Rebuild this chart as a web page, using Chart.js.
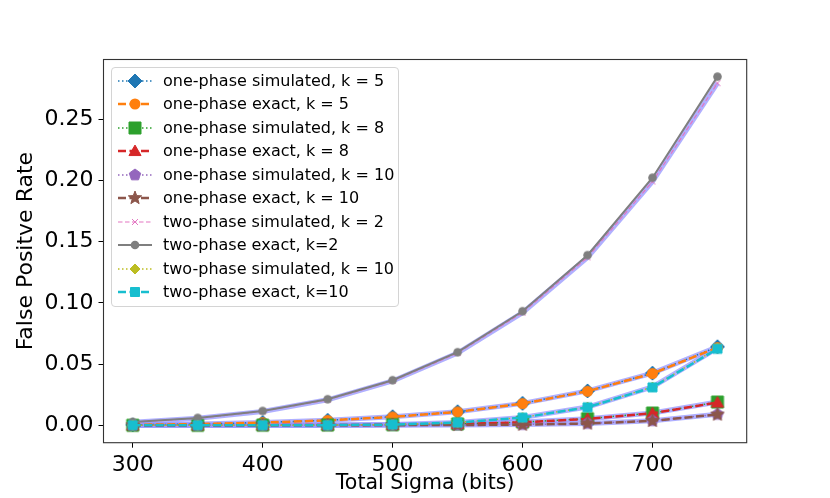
<!DOCTYPE html>
<html>
<head>
<meta charset="utf-8">
<script src="https://cdn.jsdelivr.net/npm/chart.js@4.4.0/dist/chart.umd.min.js"></script>
<style>
  body { margin: 0; background: #fff; }
  #wrap { position: relative; width: 830px; height: 498px; }
  #legend { position: absolute; left: 111px; top: 67px; width: 288px; height: 240px; box-sizing: border-box;
            border: 1px solid #d4d4d4; border-radius: 4px; background: rgba(255,255,255,0.8);
            font-family: "DejaVu Sans", sans-serif; font-size: 16px; color: #000; }
  .row { position: absolute; left: 0; width: 100%; height: 24px; }
  .row svg { position: absolute; left: 5px; top: 0; }
  .row span { position: absolute; left: 51px; top: 0; line-height: 24px; white-space: nowrap; }
</style>
</head>
<body>
<div id="wrap">
  <canvas id="fprChart"></canvas>
  <div id="legend"></div>
</div>
<script>
// x values and x tick labels
const sigmaBits = [300, 350, 400, 450, 500, 550, 600, 650, 700, 750];
const xTickValues = [300, 400, 500, 600, 700];
const yTickValues = [0, 0.05, 0.10, 0.15, 0.20, 0.25];

// series
const onePhaseSimK5   = [0.0004, 0.0010, 0.0023, 0.0041, 0.0070, 0.0111, 0.0179, 0.0281, 0.0426, 0.0642];
const onePhaseExactK5 = [0.0004, 0.0010, 0.0022, 0.0040, 0.0068, 0.0109, 0.0177, 0.0278, 0.0423, 0.0635];
const onePhaseSimK8   = [0.0000, 0.0000, 0.0001, 0.0002, 0.0005, 0.0011, 0.0026, 0.0054, 0.0100, 0.0190];
const onePhaseExactK8 = [0.0000, 0.0000, 0.0001, 0.0002, 0.0004, 0.0010, 0.0024, 0.0052, 0.0098, 0.0186];
const onePhaseSimK10  = [0.0000, 0.0000, 0.0000, 0.0000, 0.0001, 0.0002, 0.0006, 0.0015, 0.0037, 0.0090];
const onePhaseExactK10 = [0.0000, 0.0000, 0.0000, 0.0000, 0.0001, 0.0002, 0.0005, 0.0014, 0.0036, 0.0088];
const twoPhaseSimK2   = [0.0025, 0.0057, 0.0113, 0.0208, 0.0362, 0.0590, 0.0920, 0.1372, 0.1992, 0.2795];
const twoPhaseExactK2 = [0.0027, 0.0060, 0.0117, 0.0213, 0.0368, 0.0597, 0.0932, 0.1390, 0.2023, 0.2849];
const twoPhaseSimK10  = [0.0000, 0.0000, 0.0000, 0.0001, 0.0006, 0.0023, 0.0064, 0.0149, 0.0313, 0.0630];
const twoPhaseExactK10 = [0.0000, 0.0000, 0.0000, 0.0001, 0.0006, 0.0022, 0.0063, 0.0147, 0.0310, 0.0625];

const seriesLabels = [
  "one-phase simulated, k = 5", "one-phase exact, k = 5",
  "one-phase simulated, k = 8", "one-phase exact, k = 8",
  "one-phase simulated, k = 10", "one-phase exact, k = 10",
  "two-phase simulated, k = 2", "two-phase exact, k=2",
  "two-phase simulated, k = 10", "two-phase exact, k=10"
];
const seriesValues = [onePhaseSimK5, onePhaseExactK5, onePhaseSimK8, onePhaseExactK8,
  onePhaseSimK10, onePhaseExactK10, twoPhaseSimK2, twoPhaseExactK2, twoPhaseSimK10, twoPhaseExactK10];

const FONT = "'DejaVu Sans', sans-serif";
const DOT = [1.5, 2.5];
const DASH = [8, 3.5];

// look of each series (colour, line, marker)
const looks = [
  { color: "#1f77b4", width: 1.5, dash: DOT,  shape: "diamond",  r: 7 },
  { color: "#ff7f0e", width: 2.5, dash: DASH, shape: "circle",   r: 5.5 },
  { color: "#2ca02c", width: 1.5, dash: DOT,  shape: "square",   r: 6 },
  { color: "#d62728", width: 2.5, dash: DASH, shape: "triangle", r: 7 },
  { color: "#9467bd", width: 1.5, dash: DOT,  shape: "pentagon", r: 6 },
  { color: "#8c564b", width: 2.5, dash: DASH, shape: "star",     r: 7 },
  { color: "#e377c2", width: 1.2, dash: [4.5, 2.5], shape: "x",  r: 3 },
  { color: "#7f7f7f", width: 2,   dash: [],   shape: "circle",   r: 4.3 },
  { color: "#bcbd22", width: 1.5, dash: DOT,  shape: "diamond",  r: 5 },
  { color: "#17becf", width: 2.5, dash: DASH, shape: "square",   r: 4.5 }
];

// polygon vertex list for a shape of "radius" r around (cx, cy)
function shapePoints(shape, r, cx, cy) {
  const pts = [];
  if (shape === "diamond") {
    pts.push([cx, cy - r], [cx + r, cy], [cx, cy + r], [cx - r, cy]);
  } else if (shape === "square") {
    pts.push([cx - r, cy - r], [cx + r, cy - r], [cx + r, cy + r], [cx - r, cy + r]);
  } else if (shape === "triangle") {
    for (let i = 0; i < 3; i++) {
      const a = -Math.PI / 2 + i * 2 * Math.PI / 3;
      pts.push([cx + r * Math.cos(a), cy + r * Math.sin(a) + r * 0.15]);
    }
  } else if (shape === "pentagon") {
    for (let i = 0; i < 5; i++) {
      const a = -Math.PI / 2 + i * 2 * Math.PI / 5;
      pts.push([cx + r * Math.cos(a), cy + r * Math.sin(a)]);
    }
  } else if (shape === "star") {
    for (let i = 0; i < 10; i++) {
      const a = -Math.PI / 2 + i * Math.PI / 5;
      const rr = i % 2 ? r * 0.42 : r;
      pts.push([cx + rr * Math.cos(a), cy + rr * Math.sin(a)]);
    }
  }
  return pts;
}

// marker as small canvas so Chart.js can use it as pointStyle
function markerCanvas(look) {
  const size = Math.ceil(look.r * 2 + 4);
  const c = document.createElement("canvas");
  c.width = size; c.height = size;
  const g = c.getContext("2d");
  const m = size / 2;
  g.fillStyle = look.color;
  g.strokeStyle = look.color;
  g.lineWidth = 1;
  if (look.shape === "circle") {
    g.beginPath(); g.arc(m, m, look.r, 0, Math.PI * 2); g.fill();
  } else if (look.shape === "x") {
    g.beginPath();
    g.moveTo(m - look.r, m - look.r); g.lineTo(m + look.r, m + look.r);
    g.moveTo(m + look.r, m - look.r); g.lineTo(m - look.r, m + look.r);
    g.stroke();
  } else {
    const pts = shapePoints(look.shape, look.r, m, m);
    g.beginPath();
    pts.forEach((p, i) => i ? g.lineTo(p[0], p[1]) : g.moveTo(p[0], p[1]));
    g.closePath(); g.fill(); g.stroke();
  }
  return c;
}

function markerSvg(look, cx, cy) {
  if (look.shape === "circle")
    return `<circle cx="${cx}" cy="${cy}" r="${look.r}" fill="${look.color}"/>`;
  if (look.shape === "x") {
    const r = look.r;
    return `<path d="M${cx - r} ${cy - r}L${cx + r} ${cy + r}M${cx + r} ${cy - r}L${cx - r} ${cy + r}" stroke="${look.color}" stroke-width="1"/>`;
  }
  const pts = shapePoints(look.shape, look.r, cx, cy).map(p => p.join(",")).join(" ");
  return `<polygon points="${pts}" fill="${look.color}" stroke="${look.color}" stroke-width="1"/>`;
}

const datasets = seriesValues.map((vals, i) => ({
  label: seriesLabels[i],
  data: sigmaBits.map((x, j) => ({ x: x, y: vals[j] })),
  borderColor: looks[i].color,
  backgroundColor: looks[i].color,
  borderWidth: looks[i].width,
  borderDash: looks[i].dash,
  pointStyle: markerCanvas(looks[i]),
  pointRadius: looks[i].r,
  tension: 0,
  order: 20 - i
}));

// lavender band that follows the simulated curves
[0, 2, 4, 6, 8].forEach(i => {
  datasets.push({
    label: "",
    data: sigmaBits.map((x, j) => ({ x: x, y: seriesValues[i][j] })),
    borderColor: "rgba(150, 150, 255, 0.75)",
    borderWidth: 5,
    pointRadius: 0,
    tension: 0,
    order: 100
  });
});

const framePlugin = {
  id: "frame",
  afterDatasetsDraw(chart) {
    const { ctx, chartArea: a } = chart;
    ctx.save();
    ctx.strokeStyle = "#333";
    ctx.lineWidth = 1.1;
    ctx.strokeRect(a.left, a.top, a.right - a.left, a.bottom - a.top);
    ctx.restore();
  }
};

const ctx = document.getElementById("fprChart").getContext("2d");
const fprChart = new Chart(ctx, {
  type: "line",
  data: { datasets: datasets },
  options: {
    responsive: true,
    maintainAspectRatio: false,
    animation: false,
    layout: { padding: { top: 59.5, right: 83.3, left: 0, bottom: 0 } },
    plugins: { legend: { display: false }, tooltip: { enabled: false } },
    scales: {
      x: {
        type: "linear",
        min: 277.5,
        max: 772.5,
        afterBuildTicks: (s) => { s.ticks = xTickValues.map(v => ({ value: v })); },
        ticks: { color: "#000", padding: 4, font: { family: FONT, size: 22 },
                 callback: (v) => String(v) },
        grid: { drawOnChartArea: false, drawTicks: true, tickLength: 5, tickColor: "#000", tickWidth: 1 },
        border: { display: false },
        title: { display: true, text: "Total Sigma (bits)", color: "#000",
                 font: { family: FONT, size: 20.5 }, padding: { top: 0, bottom: 2 } },
        afterFit: (s) => { s.height = 55.3; }
      },
      y: {
        min: -0.01424,
        max: 0.2989,
        afterBuildTicks: (s) => { s.ticks = yTickValues.map(v => ({ value: v })); },
        ticks: { color: "#000", padding: 5, font: { family: FONT, size: 22 },
                 callback: (v) => v.toFixed(2) },
        grid: { drawOnChartArea: false, drawTicks: true, tickLength: 5, tickColor: "#000", tickWidth: 1 },
        border: { display: false },
        title: { display: true, text: "False Positve Rate", color: "#000",
                 font: { family: FONT, size: 22 }, padding: { top: 13, bottom: 0 } },
        afterFit: (s) => { s.width = 103.5; }
      }
    }
  },
  plugins: [framePlugin]
});

// legend in the upper left of the plot, as in the picture
const legendBox = document.getElementById("legend");
seriesLabels.forEach((label, i) => {
  const look = looks[i];
  const row = document.createElement("div");
  row.className = "row";
  row.style.top = (0.7 + 23.5 * i) + "px";
  const dash = look.dash.length ? `stroke-dasharray="${look.dash.join(" ")}"` : "";
  row.innerHTML =
    `<svg width="40" height="24" viewBox="0 0 40 24">` +
    `<line x1="1" y1="12" x2="35" y2="12" stroke="${look.color}" stroke-width="${look.width}" ${dash}/>` +
    markerSvg(look, 18, 12) + `</svg><span>${label}</span>`;
  legendBox.appendChild(row);
});
</script>
</body>
</html>
